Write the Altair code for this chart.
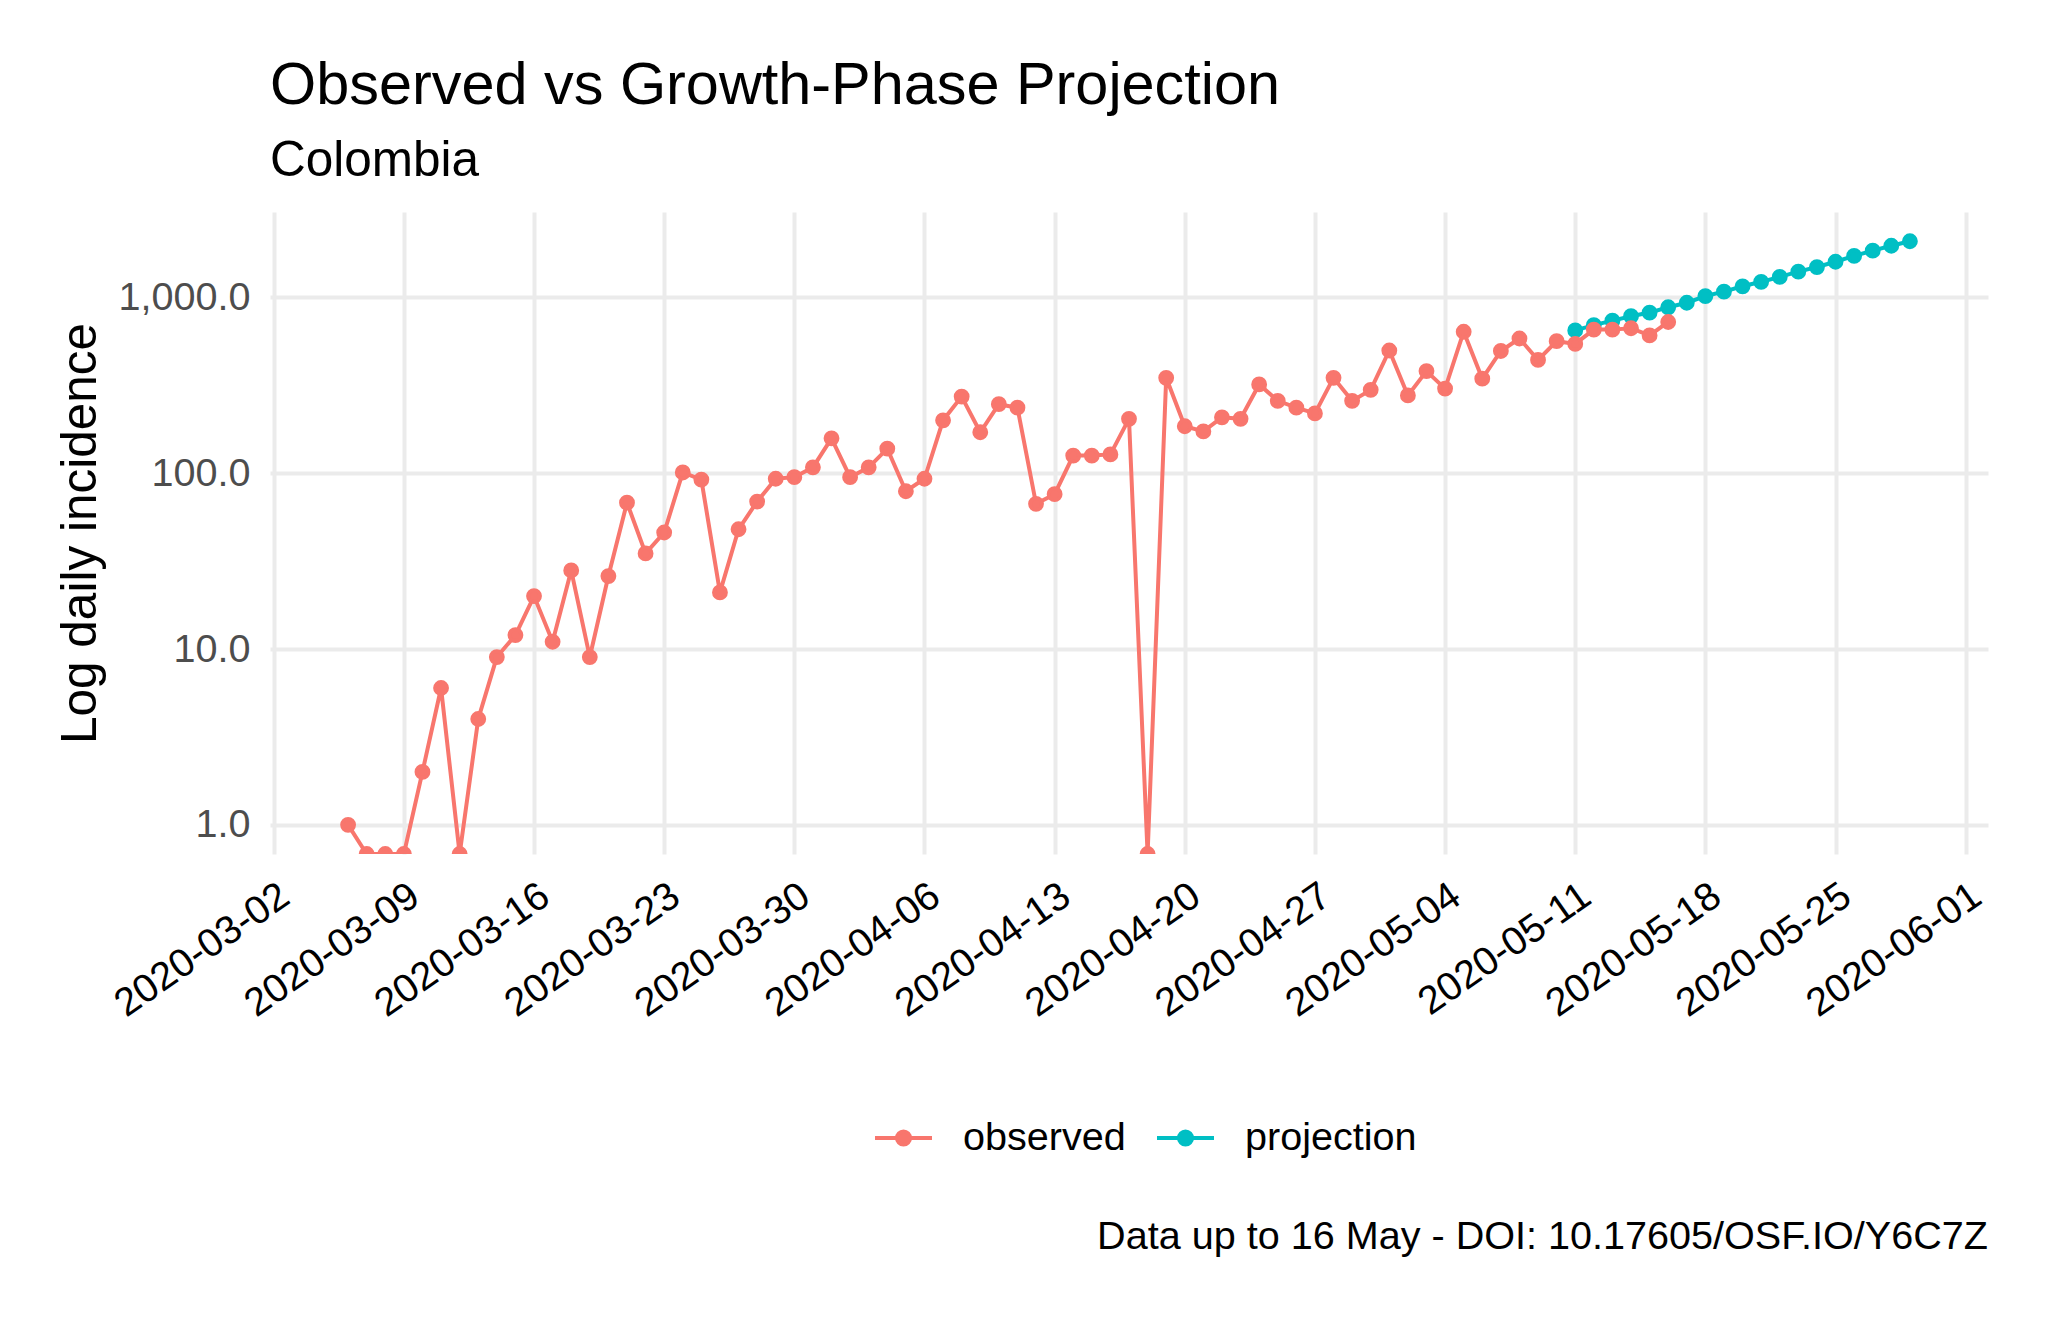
import altair as alt
import pandas as pd

# ---- data ----
obs_start = "2020-03-06"
obs_values = [1, 0, 0, 0, 2, 6, 0, 4, 9, 12,
              20, 11, 28, 9, 26, 68, 35, 46, 101, 92,
              21, 48, 69, 93, 95, 108, 158, 95, 108, 138,
              79, 93, 200, 273, 171, 247, 236, 67, 76, 126,
              126, 128, 204, 0, 349, 185, 173, 208, 204, 320,
              258, 236, 219, 349, 258, 298, 499, 277, 381, 303,
              638, 345, 496, 584, 441, 564, 544, 656, 656, 668,
              608, 725]
proj_start = "2020-05-11"
proj_values = [649, 696, 738, 782, 820, 879, 933, 1018, 1080, 1157,
               1227, 1309, 1403, 1489, 1596, 1722, 1846, 1968, 2088]
series_labels = ["observed", "projection"]
series_colors = ["#F8766D", "#00BFC4"]
x_tick_dates = ["2020-03-02", "2020-03-09", "2020-03-16", "2020-03-23", "2020-03-30",
                "2020-04-06", "2020-04-13", "2020-04-20", "2020-04-27", "2020-05-04",
                "2020-05-11", "2020-05-18", "2020-05-25", "2020-06-01"]
y_ticks = [1, 10, 100, 1000]

title_text = "Observed vs Growth-Phase Projection"
subtitle_text = "Colombia"
y_title = "Log daily incidence"
caption_text = "Data up to 16 May - DOI: 10.17605/OSF.IO/Y6C7Z"

# ---- table ----
obs_dates = pd.date_range(obs_start, periods=len(obs_values), freq="D").strftime("%Y-%m-%d")
proj_dates = pd.date_range(proj_start, periods=len(proj_values), freq="D").strftime("%Y-%m-%d")
df = pd.concat([
    pd.DataFrame({"date": list(proj_dates), "value": proj_values, "series": "projection"}),
    pd.DataFrame({"date": list(obs_dates), "value": obs_values, "series": "observed"}),
], ignore_index=True)

W, H = 1718, 642
FONT = "Liberation Sans"
Y_MIN, Y_MAX = 0.6823, 3062.0


def dt(s, h=0, mi=0):
    y, m, d = (int(p) for p in s.split("-"))
    return alt.DateTime(year=y, month=m, date=d, hours=h, minutes=mi, utc=True)


x_enc = alt.X(
    "date:T",
    scale=alt.Scale(type="utc", domain=[dt("2020-03-01", 19, 12), dt("2020-06-02", 4, 48)], nice=False),
    axis=alt.Axis(
        title=None, values=[dt(s) for s in x_tick_dates], format="%Y-%m-%d",
        labelAngle=325, labelAlign="right", labelBaseline="top", labelPadding=22,
        labelFontSize=39.6, labelColor="black", labelFont=FONT, labelLimit=0,
        labelOverlap=False, labelFlush=False, labelBound=False,
        ticks=False, domain=False, grid=True, gridColor="#EBEBEB", gridWidth=4,
    ),
)
y_enc = alt.Y(
    "yplot:Q",
    scale=alt.Scale(type="log", domain=[Y_MIN, Y_MAX], nice=False),
    axis=alt.Axis(
        title=y_title, values=y_ticks, format=",.1f",
        labelFontSize=39.6, labelColor="#4D4D4D", labelFont=FONT, labelPadding=20, labelLimit=0,
        titleFontSize=49.5, titleFontWeight="normal", titleColor="black", titleFont=FONT,
        titleAngle=270, titleBaseline="alphabetic", titleAlign="center",
        titleX=-175, titleY=H / 2,
        ticks=False, domain=False, grid=True, gridColor="#EBEBEB", gridWidth=4,
    ),
)
color_scale = alt.Scale(domain=series_labels, range=series_colors)
leg = alt.Legend(title=None)

base = alt.Chart(df).transform_calculate(
    yplot=f"datum.value > 0 ? datum.value : {Y_MIN}"
)

lines = base.mark_line(strokeWidth=4, clip=True).encode(
    x=x_enc, y=y_enc,
    stroke=alt.Stroke("series:N", scale=color_scale, legend=leg),
    detail="series:N",
)
points = base.mark_point(filled=True, size=140, strokeWidth=4, opacity=1, clip=True).encode(
    x=x_enc, y=y_enc,
    fill=alt.Fill("series:N", scale=color_scale, legend=leg),
    stroke=alt.Stroke("series:N", scale=color_scale, legend=leg),
)

caption = alt.Chart(pd.DataFrame({"caption": [caption_text]})).mark_text(
    align="right", baseline="alphabetic", fontSize=39.6, font=FONT, color="black"
).encode(text="caption:N", x=alt.value(W), y=alt.value(1037))

symbol_path = "M-1,0L1,0M-0.23,0A0.23,0.23,0,1,0,0.23,0A0.23,0.23,0,1,0,-0.23,0Z"

chart = alt.layer(lines, points, caption).properties(
    width=W, height=H,
    autosize=alt.AutoSizeParams(type="none"),
    padding={"left": 262, "top": 204, "right": 52, "bottom": 456},
    title=alt.TitleParams(
        text=title_text, subtitle=subtitle_text, anchor="start", frame="group",
        font=FONT, subtitleFont=FONT, fontSize=59.4, subtitleFontSize=49.5,
        fontWeight="normal", subtitleFontWeight="normal", color="black", subtitleColor="black",
        offset=26, subtitlePadding=20,
    ),
).configure(font=FONT, background="white").configure_view(stroke=None).configure_legend(
    orient="none", legendX=603, legendY=895, direction="horizontal",
    symbolType=symbol_path, symbolSize=3249, symbolStrokeWidth=4, symbolOpacity=1,
    labelFontSize=39.6, labelColor="black", labelFont=FONT, labelOffset=29, labelLimit=0,
    columnPadding=23, padding=0,
)

chart.save("out.html", embed_options={"renderer": "svg", "actions": False})
